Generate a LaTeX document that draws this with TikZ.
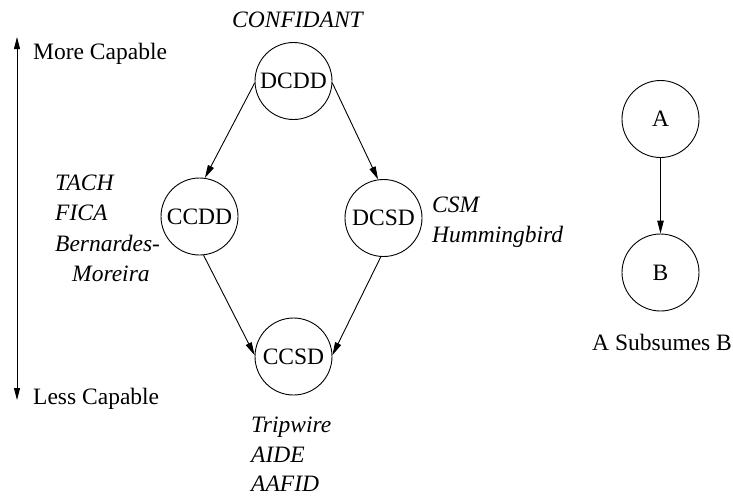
\documentclass[tikz,border=0pt]{standalone}
\usepackage{fontspec}
\setmainfont{Liberation Serif}
\usetikzlibrary{arrows.meta}
\begin{document}
\begin{tikzpicture}[x=1pt,y=-1pt,
  every node/.style={font=\fontsize{23.5}{27}\selectfont},
  state/.style={circle,draw,line width=0.9pt,minimum size=77pt,inner sep=0pt},
  lbl/.style={anchor=base west,inner sep=0pt,font=\fontsize{23.5}{27}\selectfont\itshape},
  txt/.style={anchor=base west,inner sep=0pt},
  conn/.style={line width=0.9pt,-{Triangle[length=13pt,width=6.5pt]}}]
\useasboundingbox (0,0) rectangle (733,496);
% nodes
\node[state] (dcdd) at (293.5,81) {DCDD};
\node[state] (ccdd) at (199.5,216.5) {CCDD};
\node[state] (dcsd) at (383.5,218) {DCSD};
\node[state] (ccsd) at (293.5,356.5) {CCSD};
\node[state] (a) at (660.5,119) {A};
\node[state] (b) at (660.5,272.5) {B};
% connectors
\draw[conn] (dcdd.183) -- (ccdd.82);
\draw[conn] (dcdd.-3) -- (dcsd.98);
\draw[conn] (ccdd.-84) -- (ccsd.178);
\draw[conn] (dcsd.-94) -- (ccsd.2);
\draw[conn] (a) -- (b);
% capability axis
\coordinate (top) at (17,37);
\coordinate (bot) at (17,400);
\draw[line width=0.9pt,{Triangle[length=12pt,width=6pt]}-{Triangle[length=12pt,width=6pt]}] (bot) -- (top);
\node[txt] (more) at (33,59) {More Capable};
\node[txt] (less) at (33,404) {Less Capable};
% labels
\node[lbl] (conf) at (232,27) {CONFIDANT};
\node[lbl] (tach) at (55,190) {TACH};
\node[lbl] (fica) at (55,220) {FICA};
\node[lbl] (bern) at (55,251) {Bernardes-};
\node[lbl] (more2) at (72,281) {Moreira};
\node[lbl] (csm) at (432,212) {CSM};
\node[lbl] (hum) at (432,242) {Hummingbird};
\node[lbl] (trip) at (251,432) {Tripwire};
\node[lbl] (aide) at (251,462) {AIDE};
\node[lbl] (aafid) at (251,491) {AAFID};
\node[txt] (subs) at (592,350) {A Subsumes B};
\end{tikzpicture}
\end{document}
